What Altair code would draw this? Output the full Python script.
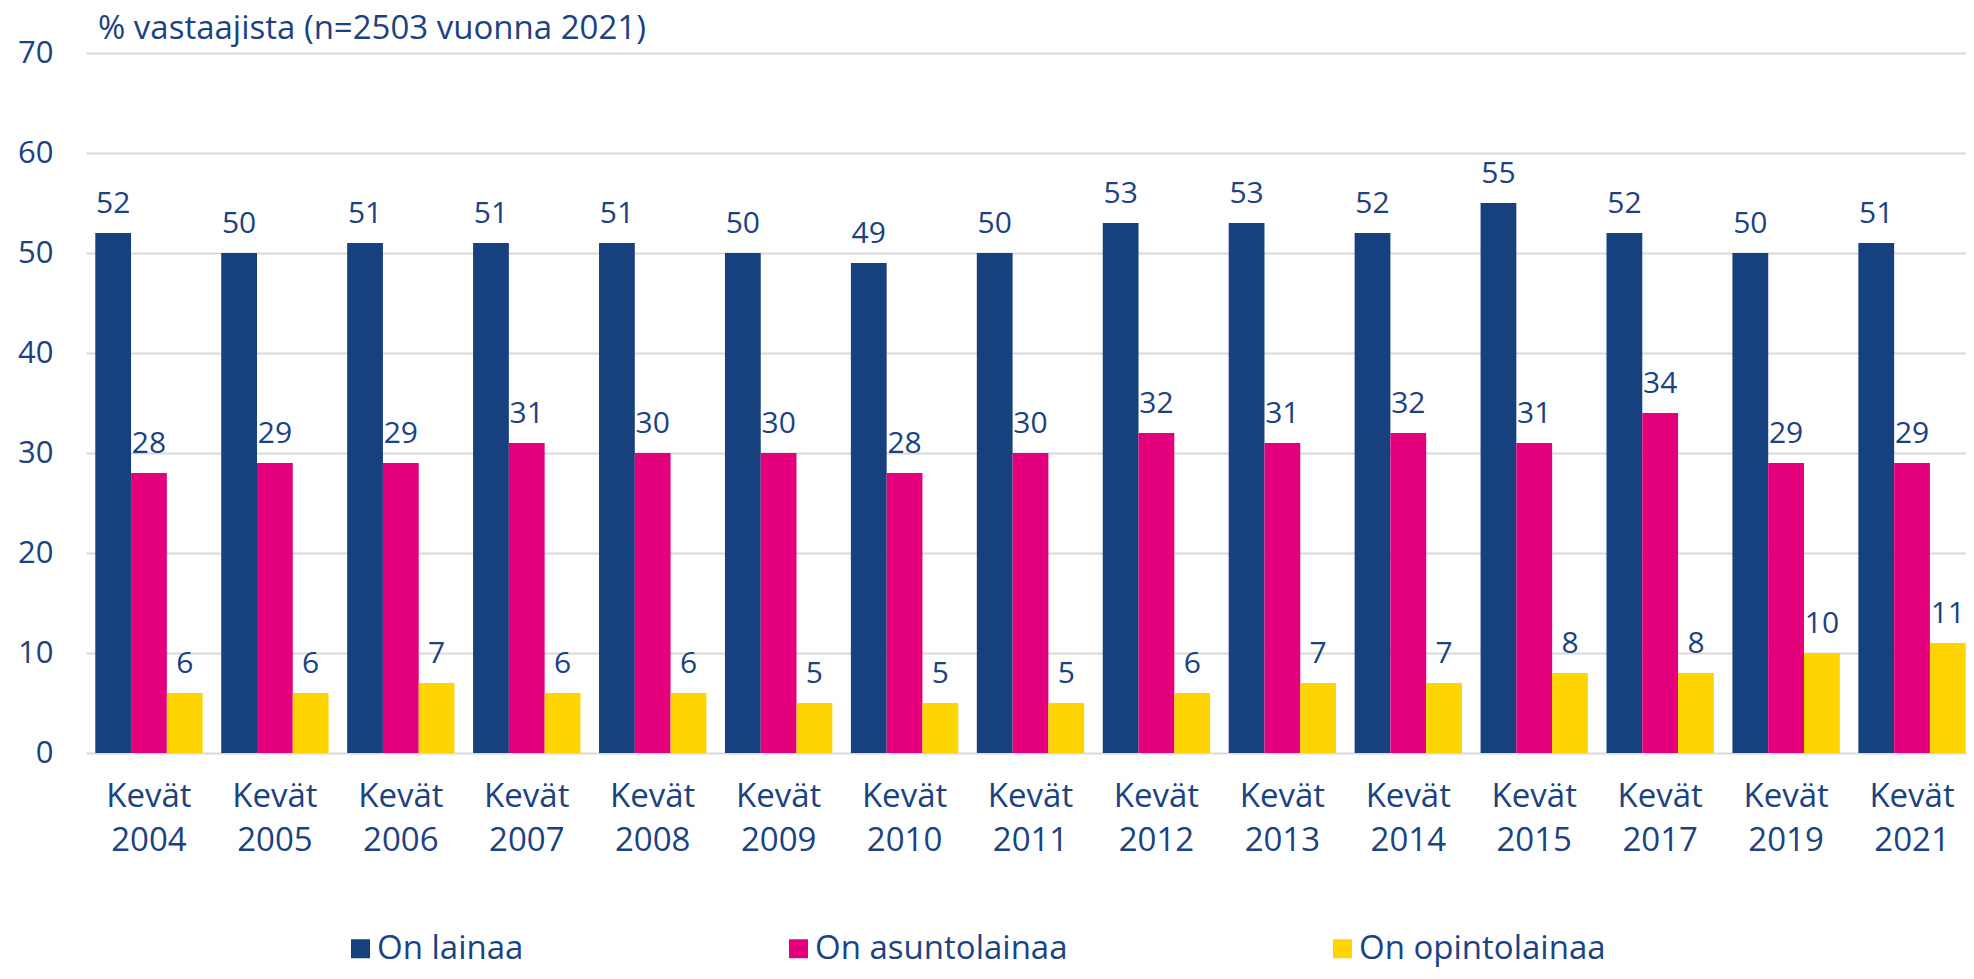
import altair as alt
import pandas as pd

years = ["Kevät 2004", "Kevät 2005", "Kevät 2006", "Kevät 2007", "Kevät 2008",
         "Kevät 2009", "Kevät 2010", "Kevät 2011", "Kevät 2012", "Kevät 2013",
         "Kevät 2014", "Kevät 2015", "Kevät 2017", "Kevät 2019", "Kevät 2021"]
series = ["On lainaa", "On asuntolainaa", "On opintolainaa"]
on_lainaa = [52, 50, 51, 51, 51, 50, 49, 50, 53, 53, 52, 55, 52, 50, 51]
on_asuntolainaa = [28, 29, 29, 31, 30, 30, 28, 30, 32, 31, 32, 31, 34, 29, 29]
on_opintolainaa = [6, 6, 7, 6, 6, 5, 5, 5, 6, 7, 7, 8, 8, 10, 11]
colors = ["#17417E", "#E4007C", "#FFD500"]
y_ticks = [0, 10, 20, 30, 40, 50, 60, 70]

rows = []
for i, yr in enumerate(years):
    for s, vals in zip(series, [on_lainaa, on_asuntolainaa, on_opintolainaa]):
        rows.append({"vuosi": yr, "sarja": s, "arvo": vals[i]})
df = pd.DataFrame(rows)

FONT = "Open Sans"
TXT = "#1B4281"

x = alt.X("vuosi:N", sort=years,
          scale=alt.Scale(range=[0, 1889], paddingInner=0.1475, paddingOuter=0.0737),
          axis=alt.Axis(title=None, labelExpr="split(datum.label, ' ')", labelAngle=0,
                        labelFontSize=33, labelColor=TXT, labelFont=FONT,
                        labelPadding=27, labelLineHeight=44, ticks=False,
                        domain=False, grid=False))
xo = alt.XOffset("sarja:N", sort=series, scale=alt.Scale(paddingInner=0, paddingOuter=0))
y = alt.Y("arvo:Q", scale=alt.Scale(domain=[0, 70]),
          axis=alt.Axis(title=None, values=y_ticks, labelFontSize=31, labelColor=TXT,
                        labelFont=FONT, labelPadding=33, ticks=False, domain=False,
                        grid=True, gridColor="#D9D9D9", gridWidth=2))

bars = alt.Chart(df).mark_bar().encode(
    x=x, xOffset=xo, y=y,
    color=alt.Color("sarja:N", sort=series,
                    scale=alt.Scale(domain=series, range=colors),
                    legend=alt.Legend(orient="none", legendX=258, legendY=879,
                                      direction="horizontal", title=None, padding=0,
                                      symbolType="square", symbolSize=361,
                                      symbolStrokeWidth=0, labelFontSize=33,
                                      labelFont=FONT, labelColor=TXT, labelLimit=500,
                                      columnPadding=258, labelOffset=0))
)

labels = alt.Chart(df).mark_text(dy=-20, baseline="alphabetic", fontSize=30,
                                 font=FONT, color=TXT).encode(
    x=alt.X("vuosi:N", sort=years), xOffset=alt.XOffset("sarja:N", sort=series),
    y="arvo:Q", text="arvo:Q"
)

chart = (bars + labels).properties(
    width=1880, height=700,
    title=alt.Title("% vastaajista (n=2503 vuonna 2021)", anchor="start", frame="group",
                    fontSize=33, color=TXT, font=FONT, fontWeight="normal",
                    dx=12, dy=23, offset=14),
    autosize=alt.AutoSizeParams(type="none"),
    padding={"left": 78, "top": 45, "right": 0, "bottom": 218},
).configure_view(stroke=None)

chart.save("out.html", embed_options={"renderer": "svg", "actions": False})
